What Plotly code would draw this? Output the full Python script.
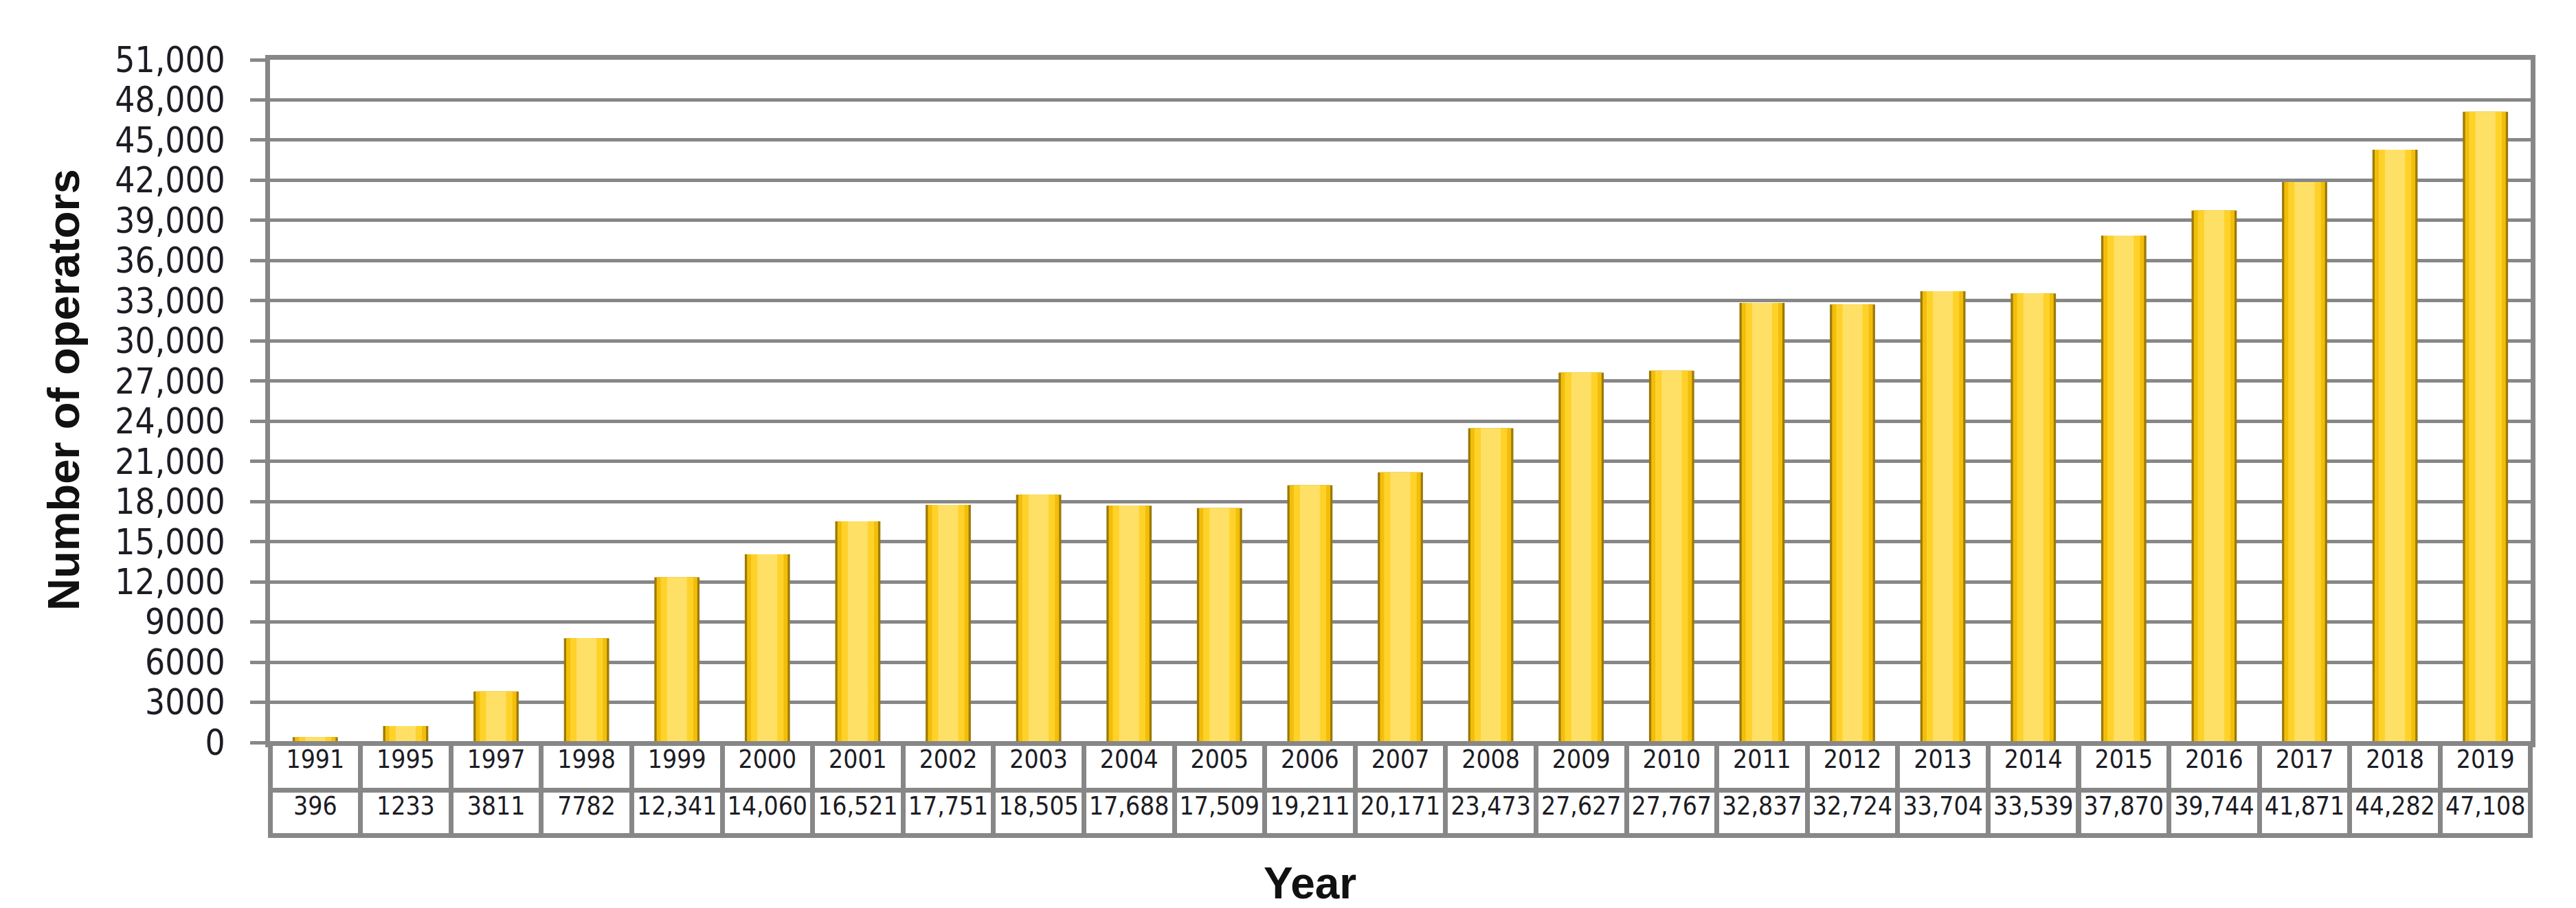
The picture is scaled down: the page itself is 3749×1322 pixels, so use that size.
import plotly.graph_objects as go

years = ["1991", "1995", "1997", "1998", "1999", "2000", "2001", "2002", "2003",
         "2004", "2005", "2006", "2007", "2008", "2009", "2010", "2011", "2012",
         "2013", "2014", "2015", "2016", "2017", "2018", "2019"]
operators = [396, 1233, 3811, 7782, 12341, 14060, 16521, 17751, 18505, 17688,
             17509, 19211, 20171, 23473, 27627, 27767, 32837, 32724, 33704,
             33539, 37870, 39744, 41871, 44282, 47108]
value_labels = ["396", "1233", "3811", "7782", "12,341", "14,060", "16,521",
                "17,751", "18,505", "17,688", "17,509", "19,211", "20,171",
                "23,473", "27,627", "27,767", "32,837", "32,724", "33,704",
                "33,539", "37,870", "39,744", "41,871", "44,282", "47,108"]
y_tickvals = [0, 3000, 6000, 9000, 12000, 15000, 18000, 21000, 24000, 27000,
              30000, 33000, 36000, 39000, 42000, 45000, 48000, 51000]
y_ticktext = ["0", "3000", "6000", "9000", "12,000", "15,000", "18,000",
              "21,000", "24,000", "27,000", "30,000", "33,000", "36,000",
              "39,000", "42,000", "45,000", "48,000", "51,000"]

W, H = 3749, 1322
ML, MR, MT, MB = 385, 74, 79, 100
plot_w = W - ML - MR
plot_h = H - MT - MB
y_bottom_px = 1073
ydom0 = (H - MB - y_bottom_px) / plot_h

GRID = "#878787"
FONT = "DejaVu Sans Condensed, DejaVu Sans, sans-serif"
TXT = "#1c1c24"

fig = go.Figure()
# layered bars to give a shaded 3D-ish look
fig.add_trace(go.Bar(x=years, y=operators, width=0.5,
                     marker=dict(color="#9C7A08", line=dict(width=0)),
                     hoverinfo="skip", showlegend=False))
fig.add_trace(go.Bar(x=years, y=operators, width=0.45,
                     marker=dict(color="#F2BE0A", line=dict(width=0)),
                     hoverinfo="skip", showlegend=False))
fig.add_trace(go.Bar(x=years, y=operators, width=0.36,
                     marker=dict(color="#FFD22A", line=dict(width=0)),
                     showlegend=False, name="Number of operators"))
fig.add_trace(go.Bar(x=years, y=operators, width=0.22,
                     marker=dict(color="#FFE066", line=dict(width=0)),
                     hoverinfo="skip", showlegend=False))

fig.add_trace(go.Table(
    domain=dict(x=[0, 1], y=[0.0, (H - MB - 1074) / plot_h]),
    columnwidth=[1] * len(years),
    header=dict(values=years, height=68, align="center",
                fill_color="white", line=dict(color=GRID, width=7),
                font=dict(family=FONT, size=37, color=TXT)),
    cells=dict(values=[[v] for v in value_labels], height=66, align="center",
               fill_color="white", line=dict(color=GRID, width=7),
               font=dict(family=FONT, size=37, color=TXT)),
))

fig.update_layout(
    width=W, height=H,
    margin=dict(l=ML, r=MR, t=MT, b=MB),
    paper_bgcolor="white", plot_bgcolor="white",
    barmode="overlay",
    showlegend=False,
    xaxis=dict(domain=[0, 1], showticklabels=False, ticks="",
               showgrid=False, showline=True, linecolor=GRID, linewidth=7,
               mirror=True, range=[-0.5, len(years) - 0.5]),
    yaxis=dict(domain=[ydom0, 1], range=[0, 51000],
               tickvals=y_tickvals, ticktext=y_ticktext,
               tickfont=dict(family=FONT, size=51, color=TXT),
               ticklabelstandoff=26,
               showgrid=True, gridcolor=GRID, gridwidth=5,
               zeroline=False,
               showline=True, linecolor=GRID, linewidth=7, mirror=True,
               ticks="outside", ticklen=22, tickwidth=5, tickcolor=GRID),
    annotations=[
        dict(text="<b>Number of operators</b>", textangle=-90,
             xref="paper", yref="paper",
             x=(84 - ML) / plot_w, y=(H - MB - 560) / plot_h,
             xanchor="center", yanchor="middle", showarrow=False,
             font=dict(family="Liberation Sans, Arial, sans-serif", size=65,
                       color="#111111")),
        dict(text="<b>Year</b>", xref="paper", yref="paper",
             x=(1898 - ML) / plot_w, y=(H - MB - 1278) / plot_h,
             xanchor="center", yanchor="middle", showarrow=False,
             font=dict(family="Liberation Sans, Arial, sans-serif", size=64,
                       color="#111111")),
    ],
)

fig.write_html("out.html")
